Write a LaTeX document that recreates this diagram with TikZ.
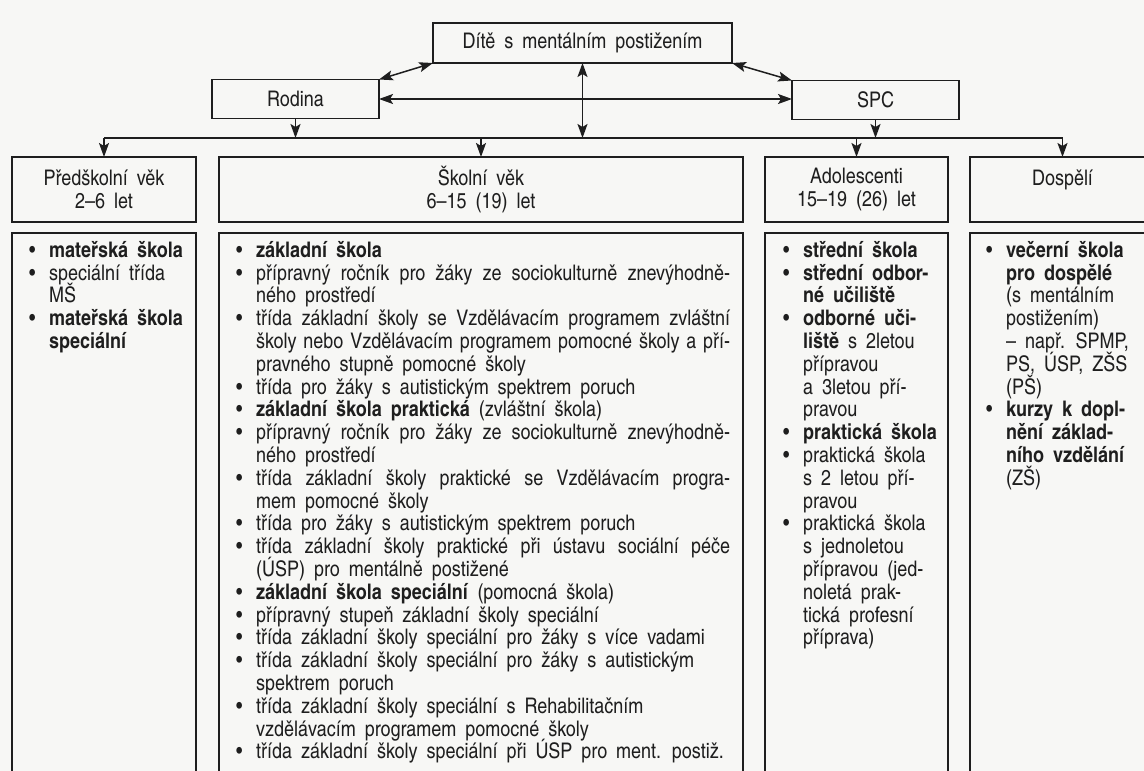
\documentclass[tikz,border=0pt]{standalone}
\usepackage{fontspec}
\setmainfont{texgyreheroscn}[Extension=.otf, UprightFont=*-regular, BoldFont=*-bold, ItalicFont=*-italic, BoldItalicFont=*-bolditalic, FakeStretch=1.02, WordSpace=1.8]
\usetikzlibrary{arrows.meta}
\usetikzlibrary{positioning}

\definecolor{paper}{RGB}{247,247,245}
\definecolor{ink}{RGB}{30,30,30}
\newcommand{\jst}[2][474pt]{\makebox[#1][s]{#2}}
\newcommand{\bi}[1]{\makebox[20pt][l]{\textbullet}#1}
\newcommand{\ci}[1]{\hspace*{20pt}#1}
\newcommand{\tightlines}{\lineskiplimit=-100pt\relax\lineskip=0pt\relax}

\begin{document}
\begin{tikzpicture}[x=1pt,y=-1pt,
    box/.style={draw=ink,line width=1.8pt,outer sep=0pt,inner sep=0pt,align=center,text=ink,font=\fontsize{21.5}{23}\selectfont},
    hdr/.style={box,minimum height=65pt},
    col/.style={draw=ink,line width=1.8pt,outer sep=0pt,inner sep=0pt,minimum height=580pt},
    lst/.style={inner sep=0pt,text=ink,align=left,font=\fontsize{21.5}{22.8}\selectfont\tightlines},
    arr/.style={draw=ink,line width=1.5pt},
    >={Stealth[length=14pt,width=10pt,inset=3pt]}]

    \useasboundingbox (0,0) rectangle (1144,771);
    \clip (0,0) rectangle (1144,771);
    \fill[paper] (0,0) rectangle (1144,771);

    \node[box,minimum width=299pt,minimum height=40pt] (child) at (582.5,43) {Dítě s mentálním postižením};
    \node[box,minimum width=167pt,minimum height=39pt] (rod) at (295.5,99) {Rodina};
    \node[box,minimum width=167pt,minimum height=39pt] (spc) at (875.5,100) {SPC};

    % age groups
    \node[hdr,minimum width=184pt] (pred) at (104,189.5) {Předškolní věk\\2–6 let};
    \node[hdr,minimum width=524pt,right=23pt of pred] (skol) {Školní věk\\6–15 (19) let};
    \node[hdr,minimum width=183pt,right=22pt of skol] (adol) {Adolescenti\\15–19 (26) let};
    \node[hdr,minimum width=185pt,right=22pt of adol] (dosp) {Dospělí\\\mbox{}};

    \node[col,minimum width=184pt,below=11pt of pred] (cpred) {};
    \node[col,minimum width=524pt,below=11pt of skol] (cskol) {};
    \node[col,minimum width=183pt,below=11pt of adol] (cadol) {};
    \node[col,minimum width=185pt,below=11pt of dosp] (cdosp) {};

    \node[lst,below right=8pt and 17pt of cpred.north west] (tpred) {%
    \bi{\textbf{mateřská škola}}\\
    \bi{speciální třída}\\
    \ci{MŠ}\\
    \bi{\textbf{mateřská škola}}\\
    \ci{\textbf{speciální}}};

    \node[lst,below right=8pt and 17pt of cskol.north west] (tskol) {%
    \bi{\textbf{základní škola}}\\
    \bi{\jst{přípravný ročník pro žáky ze sociokulturně znevýhodně-}}\\
    \ci{ného prostředí}\\
    \bi{\jst{třída základní školy se Vzdělávacím programem zvláštní}}\\
    \ci{\jst{školy nebo Vzdělávacím programem pomocné školy a pří-}}\\
    \ci{pravného stupně pomocné školy}\\
    \bi{třída pro žáky s autistickým spektrem poruch}\\
    \bi{\textbf{základní škola praktická} (zvláštní škola)}\\
    \bi{\jst{přípravný ročník pro žáky ze sociokulturně znevýhodně-}}\\
    \ci{ného prostředí}\\
    \bi{\jst{třída základní školy praktické se Vzdělávacím progra-}}\\
    \ci{mem pomocné školy}\\
    \bi{třída pro žáky s autistickým spektrem poruch}\\
    \bi{\jst{třída základní školy praktické při ústavu sociální péče}}\\
    \ci{(ÚSP) pro mentálně postižené}\\
    \bi{\textbf{základní škola speciální} (pomocná škola)}\\
    \bi{přípravný stupeň základní školy speciální}\\
    \bi{třída základní školy speciální pro žáky s více vadami}\\
    \bi{třída základní školy speciální pro žáky s autistickým}\\
    \ci{spektrem poruch}\\
    \bi{třída základní školy speciální s Rehabilitačním}\\
    \ci{vzdělávacím programem pomocné školy}\\
    \bi{třída základní školy speciální při ÚSP pro ment. postiž.}};

    \node[lst,below right=8pt and 18pt of cadol.north west] (tadol) {%
    \bi{\textbf{střední škola}}\\
    \bi{\textbf{střední odbor-}}\\
    \ci{\textbf{né učiliště}}\\
    \bi{\textbf{odborné uči-}}\\
    \ci{\textbf{liště} s 2letou}\\
    \ci{přípravou}\\
    \ci{a 3letou pří-}\\
    \ci{pravou}\\
    \bi{\textbf{praktická škola}}\\
    \bi{praktická škola}\\
    \ci{s 2 letou pří-}\\
    \ci{pravou}\\
    \bi{praktická škola}\\
    \ci{s jednoletou}\\
    \ci{přípravou (jed-}\\
    \ci{noletá prak-}\\
    \ci{tická profesní}\\
    \ci{příprava)}};

    \node[lst,below right=8pt and 16pt of cdosp.north west] (tdosp) {%
    \bi{\textbf{večerní škola}}\\
    \ci{\textbf{pro dospělé}}\\
    \ci{(s mentálním}\\
    \ci{postižením)}\\
    \ci{– např. SPMP,}\\
    \ci{PS, ÚSP, ZŠS}\\
    \ci{(PŠ)}\\
    \bi{\textbf{kurzy k dopl-}}\\
    \ci{\textbf{nění základ-}}\\
    \ci{\textbf{ního vzdělání}}\\
    \ci{(ZŠ)}};

    \coordinate (bus) at (582.5,138);

    \draw[arr,<->] (child.south west) -- (rod.north east);
    \draw[arr,<->] (child.south east) -- (spc.north west);
    \draw[arr,<->] (rod.east) -- (spc.west |- rod.east);
    \draw[arr,<->] (child.south) -- (bus);
    \draw[arr,->] (rod.south) -- (rod.south |- bus);
    \draw[arr,->] (spc.south) -- (spc.south |- bus);

    \draw[arr] (pred.north |- bus) -- (dosp.north |- bus);
    \draw[arr,->] (pred.north |- bus) -- (pred.north);
    \draw[arr,->] (skol.north |- bus) -- (skol.north);
    \draw[arr,->] (adol.north |- bus) -- (adol.north);
    \draw[arr,->] (dosp.north |- bus) -- (dosp.north);

\end{tikzpicture}
\end{document}
